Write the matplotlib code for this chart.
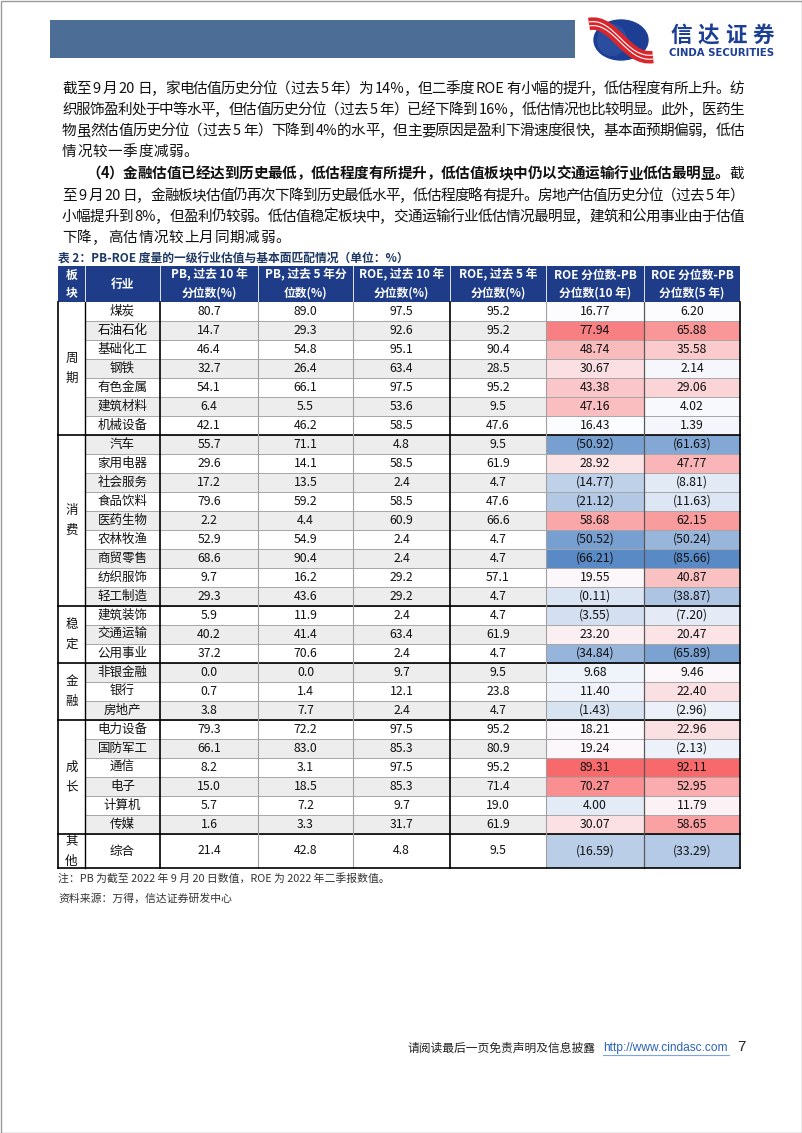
import matplotlib

matplotlib.use("Agg")

import numpy as np
import matplotlib.pyplot as plt
from matplotlib.colors import LinearSegmentedColormap, TwoSlopeNorm
from matplotlib.font_manager import FontProperties
from matplotlib.patches import Ellipse, PathPatch, Rectangle
from matplotlib.path import Path

CJK = ["Noto Sans CJK SC", "DejaVu Sans"]
plt.rcParams["font.family"] = CJK

# ---- table data ----
SECTORS = ["周期", "消费", "稳定", "金融", "成长", "其他"]
SECTOR_SIZES = [7, 9, 3, 3, 6, 1]
INDUSTRIES = [
    "煤炭", "石油石化", "基础化工", "钢铁", "有色金属", "建筑材料", "机械设备",
    "汽车", "家用电器", "社会服务", "食品饮料", "医药生物", "农林牧渔", "商贸零售", "纺织服饰", "轻工制造",
    "建筑装饰", "交通运输", "公用事业",
    "非银金融", "银行", "房地产",
    "电力设备", "国防军工", "通信", "电子", "计算机", "传媒",
    "综合",
]
PB_10Y = [80.7, 14.7, 46.4, 32.7, 54.1, 6.4, 42.1,
          55.7, 29.6, 17.2, 79.6, 2.2, 52.9, 68.6, 9.7, 29.3,
          5.9, 40.2, 37.2,
          0.0, 0.7, 3.8,
          79.3, 66.1, 8.2, 15.0, 5.7, 1.6,
          21.4]
PB_5Y = [89.0, 29.3, 54.8, 26.4, 66.1, 5.5, 46.2,
         71.1, 14.1, 13.5, 59.2, 4.4, 54.9, 90.4, 16.2, 43.6,
         11.9, 41.4, 70.6,
         0.0, 1.4, 7.7,
         72.2, 83.0, 3.1, 18.5, 7.2, 3.3,
         42.8]
ROE_10Y = [97.5, 92.6, 95.1, 63.4, 97.5, 53.6, 58.5,
           4.8, 58.5, 2.4, 58.5, 60.9, 2.4, 2.4, 29.2, 29.2,
           2.4, 63.4, 2.4,
           9.7, 12.1, 2.4,
           97.5, 85.3, 97.5, 85.3, 9.7, 31.7,
           4.8]
ROE_5Y = [95.2, 95.2, 90.4, 28.5, 95.2, 9.5, 47.6,
          9.5, 61.9, 4.7, 47.6, 66.6, 4.7, 4.7, 57.1, 4.7,
          4.7, 61.9, 4.7,
          9.5, 23.8, 4.7,
          95.2, 80.9, 95.2, 71.4, 19.0, 61.9,
          9.5]
GAP_10Y = [16.77, 77.94, 48.74, 30.67, 43.38, 47.16, 16.43,
           -50.92, 28.92, -14.77, -21.12, 58.68, -50.52, -66.21, 19.55, -0.11,
           -3.55, 23.20, -34.84,
           9.68, 11.40, -1.43,
           18.21, 19.24, 89.31, 70.27, 4.00, 30.07,
           -16.59]
GAP_5Y = [6.20, 65.88, 35.58, 2.14, 29.06, 4.02, 1.39,
          -61.63, 47.77, -8.81, -11.63, 62.15, -50.24, -85.66, 40.87, -38.87,
          -7.20, 20.47, -65.89,
          9.46, 22.40, -2.96,
          22.96, -2.13, 92.11, 52.95, 11.79, 58.65,
          -33.29]
HEADERS = ["板\n块", "行业", "PB, 过去 10 年\n分位数(%)", "PB, 过去 5 年分\n位数(%)",
           "ROE, 过去 10 年\n分位数(%)", "ROE, 过去 5 年\n分位数(%)",
           "ROE 分位数-PB\n分位数(10 年)", "ROE 分位数-PB\n分位数(5 年)"]

# ---- page text ----
PARA_LINES = [
    ([("截至 9 月 20 日，家电估值历史分位（过去 5 年）为 14%，但二季度 ROE 有小幅的提升，低估程度有所上升。纺", "normal")], 62, True),
    ([("织服饰盈利处于中等水平，但估值历史分位（过去 5 年）已经下降到 16%，低估情况也比较明显。此外，医药生", "normal")], 62, True),
    ([("物虽然估值历史分位（过去 5 年）下降到 4%的水平，但主要原因是盈利下滑速度很快，基本面预期偏弱，低估", "normal")], 62, True),
    ([("情况较一季度减弱。", "normal")], 62, False),
    ([("（4）金融估值已经达到历史最低，低估程度有所提升，低估值板块中仍以交通运输行业低估最明显。", "bold"), ("截", "normal")], 86, True),
    ([("至 9 月 20 日，金融板块估值仍再次下降到历史最低水平，低估程度略有提升。房地产估值历史分位（过去 5 年）", "normal")], 62, True),
    ([("小幅提升到 8%，但盈利仍较弱。低估值稳定板块中，交通运输行业低估情况最明显，建筑和公用事业由于估值", "normal")], 62, True),
    ([("下降，高估情况较上月同期减弱。", "normal")], 62, False),
]
LINE_Y = [88, 109, 130, 151, 173, 195, 216, 237]
TITLE = "表 2：PB-ROE 度量的一级行业估值与基本面匹配情况（单位：%）"
NOTE = "注：PB 为截至 2022 年 9 月 20 日数值，ROE 为 2022 年二季报数值。"
SOURCE = "资料来源：万得，信达证券研发中心"

NAVY = "#1E3C88"
COL_X = [58, 85, 160, 258, 353, 450, 546, 644, 740]
HEAD_TOP, HEAD_BOT = 266, 302
ROW_H = 19.0
LAST_H = 34


def split_tokens(segments):
    out = []
    for text, weight in segments:
        buf = ""
        for ch in text:
            if ch.isascii() and ch != " ":
                buf += ch
                continue
            if buf:
                out.append((buf, weight))
                buf = ""
            out.append((ch, weight))
        if buf:
            out.append((buf, weight))
    return out


def draw_line(ax, renderer, segments, x0, x1, y, size, justify):
    toks = split_tokens(segments)
    widths = []
    for s, w in toks:
        fp = FontProperties(family=CJK, size=size, weight=w)
        wd, _, _ = renderer.get_text_width_height_descent(s, fp, ismath=False)
        widths.append(wd)
    gap = (x1 - x0 - sum(widths)) / (len(toks) - 1) if justify else 0.6
    x = x0
    for (s, w), wd in zip(toks, widths):
        ax.text(x, y + 5, s, fontsize=size, fontweight=w, ha="left", va="baseline",
                color="#111111", family=CJK)
        x += wd + gap


def fmt_gap(v):
    return f"({abs(v):.2f})" if v < 0 else f"{v:.2f}"


def row_bounds(i):
    top = HEAD_BOT + i * ROW_H
    h = LAST_H if i == len(INDUSTRIES) - 1 else ROW_H
    return top, top + h


def draw_logo(ax):
    ax.add_patch(Ellipse((621, 40), 54, 40, color="#1C3F94", zorder=2))
    ax.add_patch(Ellipse((612, 40), 30, 32, color="#3D5FB0", alpha=0.45, lw=0, zorder=2))
    verts = [(589, 24), (614, 19), (626, 61), (653, 57)]
    codes = [Path.MOVETO, Path.CURVE4, Path.CURVE4, Path.CURVE4]
    ax.add_patch(PathPatch(Path(verts, codes), fill=False, lw=9, ec="#D9262C",
                           capstyle="butt", zorder=3))
    for dy in (-2.0, 2.0):
        v2 = [(x, y + dy) for x, y in verts]
        ax.add_patch(PathPatch(Path(v2, codes), fill=False, lw=0.8, ec="white", zorder=4))
    for k, ch in enumerate("信达证券"):
        ax.text(681 + k * 27.5, 35, ch, fontsize=15.5, fontweight="bold", color="#1C3F94",
                ha="center", va="center")
    ax.text(722, 53, "CINDA SECURITIES", fontsize=7.3, fontweight="bold", color="#1C3F94",
            ha="center", va="center", family=["DejaVu Sans"])


def main():
    fig = plt.figure(figsize=(8.02, 11.33), dpi=100)
    ax = fig.add_axes([0, 0, 1, 1])
    ax.set_xlim(0, 802)
    ax.set_ylim(1133, 0)
    ax.axis("off")
    renderer = fig.canvas.get_renderer()

    ax.add_patch(Rectangle((0.5, 0.5), 801, 1132, fill=False, ec="#9A9A9A", lw=1))
    ax.add_patch(Rectangle((50, 20), 525, 38, color="#4C6E96", lw=0))
    draw_logo(ax)

    for (segments, x0, justify), y in zip(PARA_LINES, LINE_Y):
        draw_line(ax, renderer, segments, x0, 744, y, 10.5, justify)

    ax.text(58, 259, TITLE, fontsize=8.5, fontweight="bold", color="#1F3864",
            ha="left", va="center")

    # header
    ax.add_patch(Rectangle((COL_X[0], HEAD_TOP), COL_X[-1] - COL_X[0], HEAD_BOT - HEAD_TOP,
                           color=NAVY, lw=0))
    for c, label in enumerate(HEADERS):
        xc = (COL_X[c] + COL_X[c + 1]) / 2
        ax.text(xc, (HEAD_TOP + HEAD_BOT) / 2, label, fontsize=8.5, fontweight="bold",
                color="white", ha="center", va="center", linespacing=1.45)
        if c > 0:
            ax.plot([COL_X[c], COL_X[c]], [HEAD_TOP, HEAD_BOT], color="white", lw=0.6)

    # color scales
    cmap = LinearSegmentedColormap.from_list("cs3", ["#5A8AC6", "#FCFCFF", "#F8696B"])
    norms = [TwoSlopeNorm(vmin=min(g), vcenter=float(np.median(g)), vmax=max(g))
             for g in (GAP_10Y, GAP_5Y)]

    ax.add_patch(Rectangle((COL_X[0], HEAD_BOT), COL_X[1] - COL_X[0],
                           row_bounds(len(INDUSTRIES) - 1)[1] - HEAD_BOT, color="white", lw=0))
    for i, name in enumerate(INDUSTRIES):
        top, bot = row_bounds(i)
        yc = (top + bot) / 2
        bg = "#EDEDED" if i % 2 else "white"
        ax.add_patch(Rectangle((COL_X[1], top), COL_X[6] - COL_X[1], bot - top, color=bg, lw=0))
        for k, (vals, norm) in enumerate(zip((GAP_10Y, GAP_5Y), norms)):
            ax.add_patch(Rectangle((COL_X[6 + k], top), COL_X[7 + k] - COL_X[6 + k], bot - top,
                                   color=cmap(norm(vals[i])), lw=0))
        cells = [name, f"{PB_10Y[i]:.1f}", f"{PB_5Y[i]:.1f}", f"{ROE_10Y[i]:.1f}",
                 f"{ROE_5Y[i]:.1f}", fmt_gap(GAP_10Y[i]), fmt_gap(GAP_5Y[i])]
        for c, s in enumerate(cells):
            xc = (COL_X[c + 1] + COL_X[c + 2]) / 2
            ax.text(xc, yc, s, fontsize=9 if c == 0 else 8.8, color="#111111",
                    ha="center", va="center")
        if i > 0:
            ax.plot([COL_X[1], COL_X[-1]], [top, top], color="#A6A6A6", lw=0.7)

    # sector labels and group separators
    start = 0
    for sec, n in zip(SECTORS, SECTOR_SIZES):
        top = row_bounds(start)[0]
        bot = row_bounds(start + n - 1)[1]
        yc = (top + bot) / 2
        for k, ch in enumerate(sec):
            ax.text((COL_X[0] + COL_X[1]) / 2, yc + (k - 0.5) * 20, ch, fontsize=9,
                    color="#111111", ha="center", va="center")
        if start > 0:
            ax.plot([COL_X[0], COL_X[-1]], [top, top], color="black", lw=1.2)
        start += n

    table_bot = row_bounds(len(INDUSTRIES) - 1)[1]
    vstyle = {0: ("black", 1.2), 1: ("black", 1.0), 2: ("black", 1.2), 3: ("#A0A0A0", 0.8),
              4: ("#A0A0A0", 0.8), 5: ("black", 1.2), 6: ("#A0A0A0", 0.8), 7: ("#595959", 0.9),
              8: ("black", 1.2)}
    for c, x in enumerate(COL_X):
        color, lw = vstyle[c]
        ax.plot([x, x], [HEAD_BOT, table_bot], color=color, lw=lw)
    ax.plot([COL_X[0], COL_X[-1]], [table_bot, table_bot], color="black", lw=1.2)

    ax.text(58, 878, NOTE, fontsize=7.8, color="#333333", ha="left", va="center", style="italic")
    ax.text(58, 899, SOURCE, fontsize=7.8, color="#333333", ha="left", va="center", style="italic")

    # footer
    ax.text(408, 1048, "请阅读最后一页免责声明及信息披露", fontsize=8.5, color="#222222",
            ha="left", va="center")
    ax.text(603, 1048, "http://www.cindasc.com", fontsize=8.6, color="#2B62B8",
            ha="left", va="center", family=["Liberation Sans", "DejaVu Sans"])
    ax.plot([603, 729], [1055, 1055], color="#7FA6DA", lw=0.8)
    ax.text(737, 1047, "7", fontsize=11, color="#222222", ha="left", va="center",
            family=["Liberation Sans", "DejaVu Sans"])

    fig.savefig("out.png", dpi=100)
    plt.close(fig)


if __name__ == "__main__":
    main()
